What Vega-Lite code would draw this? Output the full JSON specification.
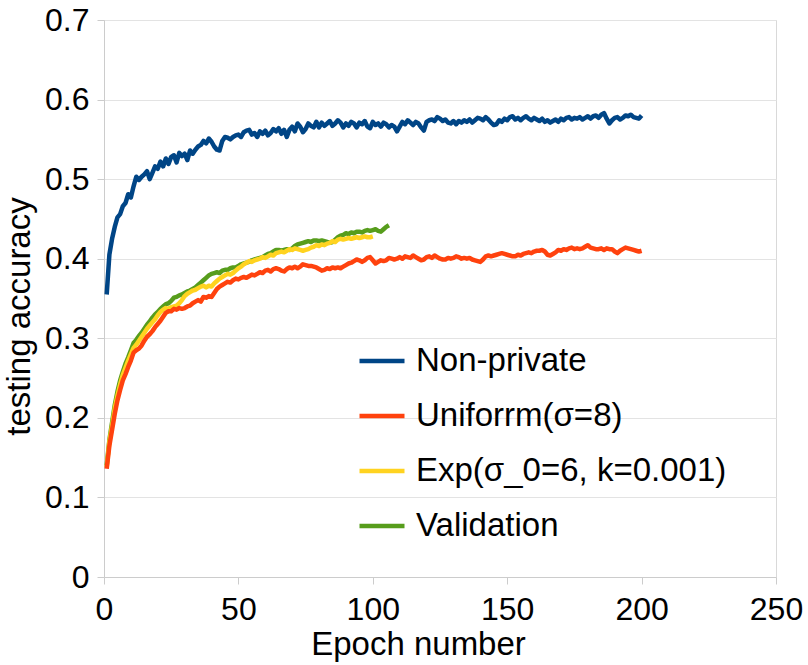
{
  "$schema": "https://vega.github.io/schema/vega-lite/v6.json",
  "autosize": "none",
  "width": 672,
  "height": 557,
  "padding": {"left": 104, "top": 20, "right": 32, "bottom": 88},
  "background": "white",
  "config": {
    "font": "Liberation Sans",
    "view": {"stroke": "#d9d9d9", "strokeWidth": 1},
    "axis": {
      "labelFont": "Liberation Sans",
      "titleFont": "Liberation Sans",
      "labelColor": "#000000",
      "titleColor": "#000000",
      "titleFontWeight": "normal",
      "domainColor": "#cccccc",
      "tickColor": "#cccccc",
      "gridColor": "#e3e3e3"
    },
    "legend": {"labelFont": "Liberation Sans"}
  },
  "data": {
    "values": [
      {"e":1,"n":0.355,"u":0.136,"x":0.138,"v":0.14},
      {"e":2,"n":0.405,"u":0.165,"x":0.17,"v":0.172},
      {"e":3,"n":0.425,"u":0.185,"x":0.19,"v":0.194},
      {"e":4,"n":0.44,"u":0.205,"x":0.212,"v":0.216},
      {"e":5,"n":0.452,"u":0.222,"x":0.228,"v":0.233},
      {"e":6,"n":0.456,"u":0.235,"x":0.242,"v":0.247},
      {"e":7,"n":0.466,"u":0.247,"x":0.254,"v":0.258},
      {"e":8,"n":0.47,"u":0.255,"x":0.263,"v":0.268},
      {"e":9,"n":0.481,"u":0.264,"x":0.272,"v":0.276},
      {"e":10,"n":0.477,"u":0.272,"x":0.28,"v":0.285},
      {"e":11,"n":0.491,"u":0.282,"x":0.288,"v":0.294},
      {"e":12,"n":0.503,"u":0.285,"x":0.292,"v":0.298},
      {"e":13,"n":0.499,"u":0.287,"x":0.297,"v":0.303},
      {"e":14,"n":0.503,"u":0.291,"x":0.302,"v":0.307},
      {"e":15,"n":0.506,"u":0.297,"x":0.307,"v":0.312},
      {"e":16,"n":0.51,"u":0.302,"x":0.312,"v":0.317},
      {"e":17,"n":0.5,"u":0.305,"x":0.316,"v":0.321},
      {"e":18,"n":0.508,"u":0.309,"x":0.32,"v":0.326},
      {"e":19,"n":0.516,"u":0.314,"x":0.324,"v":0.33},
      {"e":20,"n":0.513,"u":0.318,"x":0.329,"v":0.333},
      {"e":21,"n":0.522,"u":0.322,"x":0.333,"v":0.337},
      {"e":22,"n":0.516,"u":0.327,"x":0.336,"v":0.34},
      {"e":23,"n":0.526,"u":0.332,"x":0.338,"v":0.343},
      {"e":24,"n":0.519,"u":0.334,"x":0.337,"v":0.344},
      {"e":25,"n":0.528,"u":0.334,"x":0.339,"v":0.347},
      {"e":26,"n":0.53,"u":0.337,"x":0.34,"v":0.351},
      {"e":27,"n":0.521,"u":0.336,"x":0.341,"v":0.352},
      {"e":28,"n":0.533,"u":0.338,"x":0.344,"v":0.354},
      {"e":29,"n":0.529,"u":0.337,"x":0.348,"v":0.355},
      {"e":30,"n":0.532,"u":0.338,"x":0.353,"v":0.357},
      {"e":31,"n":0.524,"u":0.34,"x":0.356,"v":0.359},
      {"e":32,"n":0.536,"u":0.341,"x":0.358,"v":0.36},
      {"e":33,"n":0.532,"u":0.344,"x":0.36,"v":0.362},
      {"e":34,"n":0.537,"u":0.346,"x":0.361,"v":0.364},
      {"e":35,"n":0.541,"u":0.348,"x":0.363,"v":0.367},
      {"e":36,"n":0.543,"u":0.346,"x":0.365,"v":0.37},
      {"e":37,"n":0.548,"u":0.352,"x":0.366,"v":0.373},
      {"e":38,"n":0.545,"u":0.351,"x":0.364,"v":0.376},
      {"e":39,"n":0.551,"u":0.353,"x":0.366,"v":0.379},
      {"e":40,"n":0.547,"u":0.352,"x":0.365,"v":0.381},
      {"e":41,"n":0.541,"u":0.357,"x":0.369,"v":0.382},
      {"e":42,"n":0.537,"u":0.362,"x":0.372,"v":0.383},
      {"e":43,"n":0.536,"u":0.365,"x":0.375,"v":0.382},
      {"e":44,"n":0.548,"u":0.367,"x":0.377,"v":0.385},
      {"e":45,"n":0.553,"u":0.369,"x":0.379,"v":0.386},
      {"e":46,"n":0.552,"u":0.371,"x":0.381,"v":0.386},
      {"e":47,"n":0.55,"u":0.37,"x":0.38,"v":0.388},
      {"e":48,"n":0.553,"u":0.373,"x":0.382,"v":0.389},
      {"e":49,"n":0.555,"u":0.375,"x":0.385,"v":0.389},
      {"e":50,"n":0.556,"u":0.374,"x":0.388,"v":0.391},
      {"e":51,"n":0.553,"u":0.376,"x":0.39,"v":0.393},
      {"e":52,"n":0.559,"u":0.377,"x":0.393,"v":0.394},
      {"e":53,"n":0.561,"u":0.376,"x":0.395,"v":0.395},
      {"e":54,"n":0.562,"u":0.378,"x":0.397,"v":0.396},
      {"e":55,"n":0.556,"u":0.38,"x":0.396,"v":0.398},
      {"e":56,"n":0.558,"u":0.379,"x":0.398,"v":0.399},
      {"e":57,"n":0.553,"u":0.381,"x":0.399,"v":0.4},
      {"e":58,"n":0.56,"u":0.383,"x":0.4,"v":0.401},
      {"e":59,"n":0.557,"u":0.382,"x":0.402,"v":0.402},
      {"e":60,"n":0.561,"u":0.385,"x":0.401,"v":0.404},
      {"e":61,"n":0.555,"u":0.386,"x":0.403,"v":0.406},
      {"e":62,"n":0.558,"u":0.384,"x":0.405,"v":0.407},
      {"e":63,"n":0.563,"u":0.387,"x":0.404,"v":0.409},
      {"e":64,"n":0.56,"u":0.388,"x":0.407,"v":0.411},
      {"e":65,"n":0.564,"u":0.387,"x":0.408,"v":0.411},
      {"e":66,"n":0.557,"u":0.385,"x":0.409,"v":0.41},
      {"e":67,"n":0.562,"u":0.384,"x":0.408,"v":0.411},
      {"e":68,"n":0.553,"u":0.387,"x":0.41,"v":0.412},
      {"e":69,"n":0.562,"u":0.389,"x":0.412,"v":0.411},
      {"e":70,"n":0.566,"u":0.388,"x":0.411,"v":0.413},
      {"e":71,"n":0.56,"u":0.39,"x":0.413,"v":0.416},
      {"e":72,"n":0.57,"u":0.388,"x":0.412,"v":0.418},
      {"e":73,"n":0.566,"u":0.39,"x":0.411,"v":0.419},
      {"e":74,"n":0.559,"u":0.393,"x":0.41,"v":0.42},
      {"e":75,"n":0.563,"u":0.392,"x":0.411,"v":0.421},
      {"e":76,"n":0.57,"u":0.391,"x":0.412,"v":0.422},
      {"e":77,"n":0.567,"u":0.391,"x":0.414,"v":0.421},
      {"e":78,"n":0.565,"u":0.39,"x":0.415,"v":0.423},
      {"e":79,"n":0.572,"u":0.389,"x":0.417,"v":0.423},
      {"e":80,"n":0.565,"u":0.387,"x":0.416,"v":0.422},
      {"e":81,"n":0.571,"u":0.385,"x":0.418,"v":0.423},
      {"e":82,"n":0.567,"u":0.386,"x":0.417,"v":0.422},
      {"e":83,"n":0.57,"u":0.388,"x":0.419,"v":0.421},
      {"e":84,"n":0.573,"u":0.387,"x":0.42,"v":0.42},
      {"e":85,"n":0.567,"u":0.389,"x":0.422,"v":0.421},
      {"e":86,"n":0.57,"u":0.388,"x":0.421,"v":0.424},
      {"e":87,"n":0.574,"u":0.389,"x":0.424,"v":0.427},
      {"e":88,"n":0.571,"u":0.388,"x":0.425,"v":0.429},
      {"e":89,"n":0.565,"u":0.39,"x":0.424,"v":0.43},
      {"e":90,"n":0.57,"u":0.392,"x":0.425,"v":0.432},
      {"e":91,"n":0.567,"u":0.394,"x":0.426,"v":0.431},
      {"e":92,"n":0.572,"u":0.395,"x":0.425,"v":0.433},
      {"e":93,"n":0.57,"u":0.397,"x":0.426,"v":0.432},
      {"e":94,"n":0.565,"u":0.399,"x":0.427,"v":0.434},
      {"e":95,"n":0.571,"u":0.398,"x":0.426,"v":0.434},
      {"e":96,"n":0.569,"u":0.396,"x":0.427,"v":0.433},
      {"e":97,"n":0.573,"u":0.398,"x":0.428,"v":0.435},
      {"e":98,"n":0.566,"u":0.401,"x":0.427,"v":0.436},
      {"e":99,"n":0.564,"u":0.402,"x":0.427,"v":0.435},
      {"e":100,"n":0.572,"u":0.398,"x":0.428,"v":0.436},
      {"e":101,"n":0.568,"u":0.394,"x":null,"v":0.437},
      {"e":102,"n":0.57,"u":0.396,"x":null,"v":0.435},
      {"e":103,"n":0.566,"u":0.398,"x":null,"v":0.434},
      {"e":104,"n":0.571,"u":0.397,"x":null,"v":0.437},
      {"e":105,"n":0.569,"u":0.398,"x":null,"v":0.44},
      {"e":106,"n":0.565,"u":0.401,"x":null,"v":0.442},
      {"e":107,"n":0.568,"u":0.4,"x":null,"v":null},
      {"e":108,"n":0.566,"u":0.399,"x":null,"v":null},
      {"e":109,"n":0.56,"u":0.4,"x":null,"v":null},
      {"e":110,"n":0.566,"u":0.402,"x":null,"v":null},
      {"e":111,"n":0.572,"u":0.4,"x":null,"v":null},
      {"e":112,"n":0.569,"u":0.403,"x":null,"v":null},
      {"e":113,"n":0.574,"u":0.402,"x":null,"v":null},
      {"e":114,"n":0.571,"u":0.401,"x":null,"v":null},
      {"e":115,"n":0.568,"u":0.404,"x":null,"v":null},
      {"e":116,"n":0.572,"u":0.402,"x":null,"v":null},
      {"e":117,"n":0.57,"u":0.4,"x":null,"v":null},
      {"e":118,"n":0.565,"u":0.398,"x":null,"v":null},
      {"e":119,"n":0.561,"u":0.399,"x":null,"v":null},
      {"e":120,"n":0.572,"u":0.402,"x":null,"v":null},
      {"e":121,"n":0.574,"u":0.403,"x":null,"v":null},
      {"e":122,"n":0.575,"u":0.401,"x":null,"v":null},
      {"e":123,"n":0.573,"u":0.404,"x":null,"v":null},
      {"e":124,"n":0.578,"u":0.402,"x":null,"v":null},
      {"e":125,"n":0.576,"u":0.4,"x":null,"v":null},
      {"e":126,"n":0.573,"u":0.399,"x":null,"v":null},
      {"e":127,"n":0.575,"u":0.399,"x":null,"v":null},
      {"e":128,"n":0.571,"u":0.401,"x":null,"v":null},
      {"e":129,"n":0.57,"u":0.4,"x":null,"v":null},
      {"e":130,"n":0.573,"u":0.401,"x":null,"v":null},
      {"e":131,"n":0.569,"u":0.403,"x":null,"v":null},
      {"e":132,"n":0.573,"u":0.402,"x":null,"v":null},
      {"e":133,"n":0.571,"u":0.4,"x":null,"v":null},
      {"e":134,"n":0.574,"u":0.401,"x":null,"v":null},
      {"e":135,"n":0.572,"u":0.4,"x":null,"v":null},
      {"e":136,"n":0.575,"u":0.401,"x":null,"v":null},
      {"e":137,"n":0.571,"u":0.399,"x":null,"v":null},
      {"e":138,"n":0.574,"u":0.398,"x":null,"v":null},
      {"e":139,"n":0.577,"u":0.397,"x":null,"v":null},
      {"e":140,"n":0.576,"u":0.396,"x":null,"v":null},
      {"e":141,"n":0.574,"u":0.399,"x":null,"v":null},
      {"e":142,"n":0.578,"u":0.403,"x":null,"v":null},
      {"e":143,"n":0.575,"u":0.404,"x":null,"v":null},
      {"e":144,"n":0.571,"u":0.403,"x":null,"v":null},
      {"e":145,"n":0.568,"u":0.404,"x":null,"v":null},
      {"e":146,"n":0.569,"u":0.405,"x":null,"v":null},
      {"e":147,"n":0.574,"u":0.406,"x":null,"v":null},
      {"e":148,"n":0.572,"u":0.407,"x":null,"v":null},
      {"e":149,"n":0.576,"u":0.406,"x":null,"v":null},
      {"e":150,"n":0.574,"u":0.405,"x":null,"v":null},
      {"e":151,"n":0.578,"u":0.404,"x":null,"v":null},
      {"e":152,"n":0.579,"u":0.403,"x":null,"v":null},
      {"e":153,"n":0.575,"u":0.403,"x":null,"v":null},
      {"e":154,"n":0.577,"u":0.405,"x":null,"v":null},
      {"e":155,"n":0.574,"u":0.404,"x":null,"v":null},
      {"e":156,"n":0.577,"u":0.406,"x":null,"v":null},
      {"e":157,"n":0.579,"u":0.407,"x":null,"v":null},
      {"e":158,"n":0.576,"u":0.408,"x":null,"v":null},
      {"e":159,"n":0.574,"u":0.407,"x":null,"v":null},
      {"e":160,"n":0.577,"u":0.409,"x":null,"v":null},
      {"e":161,"n":0.575,"u":0.41,"x":null,"v":null},
      {"e":162,"n":0.573,"u":0.41,"x":null,"v":null},
      {"e":163,"n":0.576,"u":0.411,"x":null,"v":null},
      {"e":164,"n":0.572,"u":0.409,"x":null,"v":null},
      {"e":165,"n":0.574,"u":0.405,"x":null,"v":null},
      {"e":166,"n":0.571,"u":0.404,"x":null,"v":null},
      {"e":167,"n":0.573,"u":0.406,"x":null,"v":null},
      {"e":168,"n":0.575,"u":0.408,"x":null,"v":null},
      {"e":169,"n":0.572,"u":0.411,"x":null,"v":null},
      {"e":170,"n":0.576,"u":0.41,"x":null,"v":null},
      {"e":171,"n":0.574,"u":0.412,"x":null,"v":null},
      {"e":172,"n":0.577,"u":0.411,"x":null,"v":null},
      {"e":173,"n":0.578,"u":0.413,"x":null,"v":null},
      {"e":174,"n":0.575,"u":0.414,"x":null,"v":null},
      {"e":175,"n":0.577,"u":0.412,"x":null,"v":null},
      {"e":176,"n":0.576,"u":0.413,"x":null,"v":null},
      {"e":177,"n":0.578,"u":0.412,"x":null,"v":null},
      {"e":178,"n":0.575,"u":0.413,"x":null,"v":null},
      {"e":179,"n":0.577,"u":0.415,"x":null,"v":null},
      {"e":180,"n":0.579,"u":0.417,"x":null,"v":null},
      {"e":181,"n":0.576,"u":0.414,"x":null,"v":null},
      {"e":182,"n":0.579,"u":0.413,"x":null,"v":null},
      {"e":183,"n":0.58,"u":0.412,"x":null,"v":null},
      {"e":184,"n":0.577,"u":0.412,"x":null,"v":null},
      {"e":185,"n":0.581,"u":0.413,"x":null,"v":null},
      {"e":186,"n":0.583,"u":0.411,"x":null,"v":null},
      {"e":187,"n":0.576,"u":0.413,"x":null,"v":null},
      {"e":188,"n":0.57,"u":0.412,"x":null,"v":null},
      {"e":189,"n":0.574,"u":0.412,"x":null,"v":null},
      {"e":190,"n":0.577,"u":0.409,"x":null,"v":null},
      {"e":191,"n":0.578,"u":0.407,"x":null,"v":null},
      {"e":192,"n":0.575,"u":0.41,"x":null,"v":null},
      {"e":193,"n":0.577,"u":0.412,"x":null,"v":null},
      {"e":194,"n":0.58,"u":0.414,"x":null,"v":null},
      {"e":195,"n":0.579,"u":0.413,"x":null,"v":null},
      {"e":196,"n":0.581,"u":0.412,"x":null,"v":null},
      {"e":197,"n":0.578,"u":0.411,"x":null,"v":null},
      {"e":198,"n":0.577,"u":0.41,"x":null,"v":null},
      {"e":199,"n":0.576,"u":0.409,"x":null,"v":null},
      {"e":200,"n":0.58,"u":0.41,"x":null,"v":null}
    ]
  },
  "transform": [
    {"fold": ["v", "x", "u", "n"], "as": ["s", "a"]},
    {"filter": "isValid(datum.a)"}
  ],
  "mark": {"type": "line", "strokeWidth": 4.5, "strokeJoin": "round", "strokeCap": "butt"},
  "encoding": {
    "x": {
      "field": "e",
      "type": "quantitative",
      "scale": {"domain": [0, 250], "nice": false, "zero": false},
      "axis": {
        "values": [0, 50, 100, 150, 200, 250],
        "grid": false,
        "title": "Epoch number",
        "titleFontSize": 33,
        "titleX": 314,
        "titleY": 77,
        "titleBaseline": "alphabetic",
        "labelFontSize": 32,
        "tickSize": 7,
        "labelPadding": 10,
        "labelFlush": false
      }
    },
    "y": {
      "field": "a",
      "type": "quantitative",
      "scale": {"domain": [0, 0.7], "nice": false},
      "axis": {
        "values": [0, 0.1, 0.2, 0.3, 0.4, 0.5, 0.6, 0.7],
        "format": "~g",
        "grid": true,
        "title": "testing accuracy",
        "titleFontSize": 33,
        "titleX": -68,
        "titleY": 296,
        "labelFontSize": 32,
        "tickSize": 7,
        "labelPadding": 8
      }
    },
    "color": {
      "field": "s",
      "type": "nominal",
      "scale": {
        "domain": ["n", "u", "x", "v"],
        "range": ["#004586", "#ff420e", "#ffd320", "#579d1c"]
      },
      "legend": {
        "title": null,
        "orient": "none",
        "legendX": 253,
        "legendY": 316,
        "padding": 0,
        "symbolType": "stroke",
        "symbolSize": 2025,
        "symbolStrokeWidth": 4.5,
        "labelFontSize": 33,
        "labelLimit": 0,
        "labelColor": "#000000",
        "labelOffset": 9,
        "rowPadding": 13,
        "labelExpr": "{'n': 'Non-private', 'u': 'Uniforrm(σ=8)', 'x': 'Exp(σ_0=6, k=0.001)', 'v': 'Validation'}[datum.label]"
      }
    }
  }
}
